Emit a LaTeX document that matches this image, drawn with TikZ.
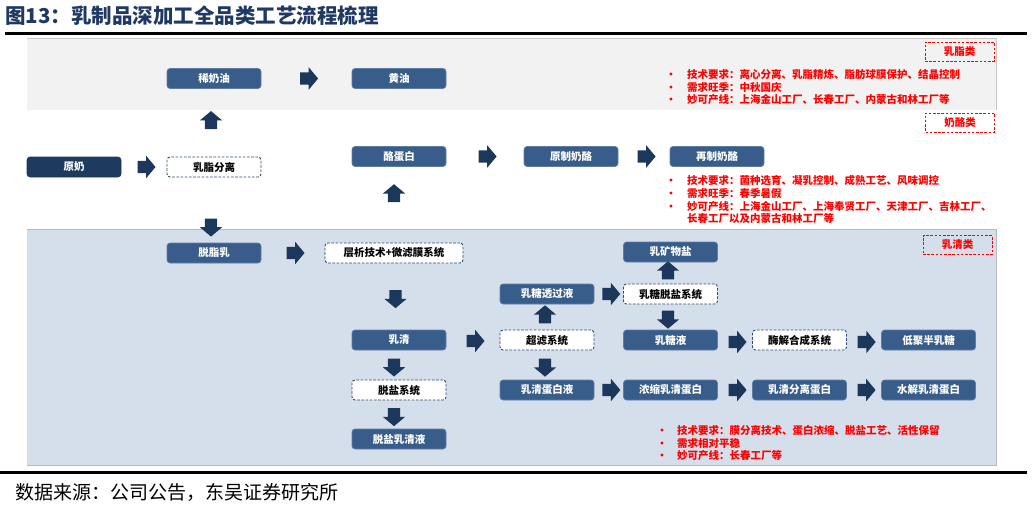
\documentclass[tikz,border=0pt]{standalone}
\usepackage{fontspec}
\setmainfont{Noto Sans CJK SC}
\usetikzlibrary{shapes.arrows,calc}
\definecolor{nodeblue}{HTML}{385D8A}
\definecolor{darkblue}{HTML}{1F3A5F}
\definecolor{arrowc}{HTML}{1C375C}
\definecolor{topband}{HTML}{F2F2F2}
\definecolor{botband}{HTML}{D5DFEC}
\definecolor{titleblue}{HTML}{203864}
\definecolor{dashc}{HTML}{2E4A70}
\definecolor{redc}{HTML}{FF0000}
\newcommand\bl{\makebox[10pt][c]{•}\hspace{11pt}}
\newcommand\blw{\makebox[10pt][c]{•}\hspace{10pt}}
\begin{document}
\begin{tikzpicture}[x=1pt,y=-1pt,
  solidbox/.style={rectangle, rounded corners=3pt, fill=nodeblue, draw=nodeblue!80!white, line width=0.6pt,
    minimum width=94pt, minimum height=20pt, inner sep=0pt, text=white, font=\fontsize{10.5}{12}\selectfont\bfseries},
  darkbox/.style={solidbox, fill=darkblue, draw=darkblue},
  dashbox/.style={rectangle, rounded corners=3pt, fill=white, draw=dashc, line width=0.9pt, dash pattern=on 2.6pt off 1.6pt,
    minimum width=94pt, minimum height=20pt, inner sep=0pt, text=black, font=\fontsize{10.5}{12}\selectfont\bfseries},
  catbox/.style={rectangle, draw=redc, line width=0.9pt, dash pattern=on 2.6pt off 1.6pt,
    minimum width=69pt, minimum height=19pt, inner sep=0pt, text=redc, font=\fontsize{10.5}{12}\selectfont\bfseries},
  redtxt/.style={anchor=west, inner sep=0pt, text=redc, font=\fontsize{10.5}{12}\selectfont\bfseries},
  barrow/.style={single arrow, fill=arrowc, draw=none, inner xsep=0pt, inner ysep=6pt, minimum height=18pt,
    single arrow head extend=5pt, single arrow tip angle=100, single arrow head indent=0pt},
  uparrow/.style={barrow, rotate=90},
  downarrow/.style={barrow, rotate=-90}
]
\useasboundingbox (0,0) rectangle (1032,506);
% title
\node[anchor=west, inner sep=0pt, text=titleblue, font=\fontsize{20.5}{22}\selectfont\bfseries] (title) at (5,16) {图13：乳制品深加工全品类工艺流程梳理};
\draw[line width=2.2pt] (5,33.5) -- (1027,33.5);
% bands
\fill[topband] (27,38) rectangle (996,110);
\draw[gray!45, line width=0.7pt] (27,38) -- (996,38) -- (996,110);
\fill[botband] (27,229) rectangle (996,465);
\draw[gray!55, line width=0.8pt] (27,229) -- (996,229) -- (996,465) -- (27,465);
% category labels
\node[catbox] (cat1) at (959.5,51.5) {乳脂类};
\node[catbox] (cat2) at (960,122.5) {奶酪类};
\node[catbox] (cat3) at (957.5,245) {乳清类};
% nodes
\node[darkbox] (raw) at (74,167) {原奶};
\node[dashbox] (sep) at (214,167) {乳脂分离};
\node[solidbox] (cream) at (214,78.5) {稀奶油};
\node[solidbox] (butter) at (399,78.5) {黄油};
\node[solidbox] (casein) at (399,156.5) {酪蛋白};
\node[solidbox] (natch) at (571,156.5) {原制奶酪};
\node[solidbox] (proch) at (717,156.5) {再制奶酪};
\node[solidbox] (skim) at (214,253) {脱脂乳};
\node[dashbox, minimum width=138pt] (chrom) at (394,253) {层析技术+微滤膜系统};
\node[solidbox] (whey) at (399,340) {乳清};
\node[dashbox] (uf) at (547,340) {超滤系统};
\node[solidbox] (lacperm) at (547,294) {乳糖透过液};
\node[dashbox] (desalt2) at (670.5,294) {乳糖脱盐系统};
\node[solidbox] (mineral) at (670.5,252) {乳矿物盐};
\node[solidbox] (lacliq) at (670.5,340) {乳糖液};
\node[dashbox] (enz) at (799.5,340) {酶解合成系统};
\node[solidbox] (gos) at (928.5,340) {低聚半乳糖};
\node[dashbox] (desalt) at (399,390) {脱盐系统};
\node[solidbox] (dwhey) at (399,439) {脱盐乳清液};
\node[solidbox] (wpl) at (547,390) {乳清蛋白液};
\node[solidbox] (wpc) at (670.5,390) {浓缩乳清蛋白};
\node[solidbox] (wpi) at (799.5,390) {乳清分离蛋白};
\node[solidbox] (wph) at (928.5,390) {水解乳清蛋白};
% block arrows
\node[barrow] (a1) at ($(raw.east)!0.5!(sep.west)$) {};
\node[uparrow] (a2) at ($(sep.north)!0.5!(cream.south)+(-3,0)$) {};
\node[downarrow] (a3) at ($(sep.south)+(-3,47.5)$) {};
\node[barrow] (a4) at ($(cream.east)!0.5!(butter.west)$) {};
\node[uparrow] (a5) at ($(casein.south)+(-5,29)$) {};
\node[barrow] (a6) at ($(casein.east)!0.5!(natch.west)$) {};
\node[barrow] (a7) at ($(natch.east)!0.5!(proch.west)$) {};
\node[barrow] (a8) at ($(skim.east)!0.5!(chrom.west)$) {};
\node[downarrow] (a9) at ($(chrom.south)!0.5!(whey.north)+(-1,0)$) {};
\node[barrow] (a10) at ($(whey.east)!0.5!(uf.west)+(0,1)$) {};
\node[uparrow] (a11) at ($(uf.north)!0.5!(lacperm.south)+(-2,0)$) {};
\node[downarrow] (a12) at ($(uf.south)!0.5!(wpl.north)+(-2,0)$) {};
\node[barrow] (a13) at ($(lacperm.east)!0.5!(desalt2.west)$) {};
\node[uparrow] (a14) at ($(desalt2.north)!0.5!(mineral.south)+(-2.5,0)$) {};
\node[downarrow] (a15) at ($(desalt2.south)!0.5!(lacliq.north)+(-2.5,0)$) {};
\node[barrow] (a16) at ($(lacliq.east)!0.5!(enz.west)+(0,2)$) {};
\node[barrow] (a17) at ($(enz.east)!0.5!(gos.west)+(0,2)$) {};
\node[downarrow] (a18) at ($(whey.south)!0.5!(desalt.north)+(-5,0)$) {};
\node[downarrow] (a19) at ($(desalt.south)!0.5!(dwhey.north)+(-5,0)$) {};
\node[barrow] (a20) at ($(wpl.east)!0.5!(wpc.west)$) {};
\node[barrow] (a21) at ($(wpc.east)!0.5!(wpi.west)$) {};
\node[barrow] (a22) at ($(wpi.east)!0.5!(wph.west)$) {};
% red notes
\node[redtxt] (n11) at (666,74) {\bl 技术要求：离心分离、乳脂精炼、脂肪球膜保护、结晶控制};
\node[redtxt] (n12) at (666,87) {\bl 需求旺季：中秋国庆};
\node[redtxt] (n13) at (666,99.5) {\bl 妙可产线：上海金山工厂、长春工厂、内蒙古和林工厂等};
\node[redtxt] (n21) at (666,181) {\bl 技术要求：菌种选育、凝乳控制、成熟工艺、风味调控};
\node[redtxt] (n22) at (666,193.5) {\bl 需求旺季：春季暑假};
\node[redtxt] (n23) at (666,206.5) {\bl 妙可产线：上海金山工厂、上海奉贤工厂、天津工厂、吉林工厂、};
\node[redtxt] (n24) at (687,218.5) {长春工厂以及内蒙古和林工厂等};
\node[redtxt] (n31) at (657,431) {\blw 技术要求：膜分离技术、蛋白浓缩、脱盐工艺、活性保留};
\node[redtxt] (n32) at (657,443.5) {\blw 需求相对平稳};
\node[redtxt] (n33) at (657,456) {\blw 妙可产线：长春工厂等};
% footer
\draw[line width=2.2pt] (0,472.5) -- (1027,472.5);
\node[anchor=west, inner sep=0pt, font=\fontsize{19}{21}\selectfont] (src) at (15,492) {数据来源：公司公告，东吴证券研究所};
\end{tikzpicture}
\end{document}
